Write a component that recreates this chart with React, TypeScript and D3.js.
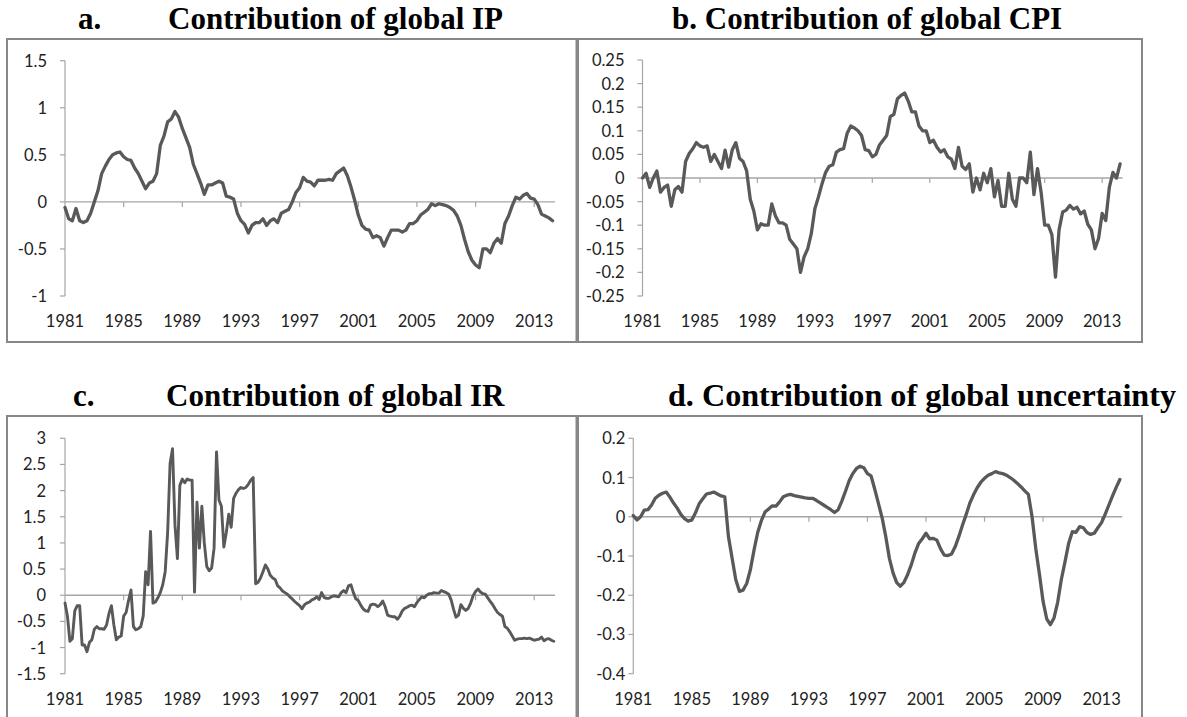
import React from "react";
import * as d3 from "d3";

// ---------- data ----------
const yearLabels = ["1981", "1985", "1989", "1993", "1997", "2001", "2005", "2009", "2013"];
const lastMonth = 401; // months since Jan 1981 of the last observation

// a. quarterly (step 3 months)
const ipValues = [
  -0.06, -0.18, -0.2, -0.07, -0.2, -0.22, -0.2, -0.12, 0.0, 0.12,
  0.3, 0.38, 0.45, 0.5, 0.52, 0.53, 0.48, 0.45, 0.44, 0.36,
  0.3, 0.22, 0.14, 0.2, 0.22, 0.3, 0.6, 0.7, 0.85, 0.88,
  0.96, 0.9, 0.78, 0.68, 0.58, 0.4, 0.3, 0.2, 0.08, 0.18,
  0.18, 0.2, 0.22, 0.2, 0.06, 0.05, 0.03, -0.12, -0.2, -0.24,
  -0.33, -0.25, -0.22, -0.22, -0.18, -0.25, -0.2, -0.18, -0.22, -0.12,
  -0.1, -0.08, 0.0, 0.1, 0.15, 0.26, 0.22, 0.21, 0.17, 0.23,
  0.23, 0.23, 0.24, 0.23, 0.3, 0.33, 0.36, 0.28, 0.16, 0.02,
  -0.14, -0.25, -0.29, -0.3, -0.38, -0.36, -0.38, -0.47, -0.38, -0.3,
  -0.3, -0.3, -0.32, -0.3, -0.23, -0.23, -0.2, -0.14, -0.11, -0.08,
  -0.02, -0.04, -0.02, -0.03, -0.04, -0.06, -0.09, -0.15, -0.25, -0.4,
  -0.53, -0.62, -0.67, -0.7, -0.5, -0.5, -0.54, -0.44, -0.39, -0.44,
  -0.23, -0.15, -0.04, 0.05, 0.03, 0.07, 0.09, 0.04, 0.03, -0.03,
  -0.13, -0.15, -0.17, -0.2,
];

// b. quarterly
const cpiValues = [
  0.0, 0.01, -0.02, 0.0, 0.015, -0.03, -0.02, -0.015, -0.06, -0.025,
  -0.018, -0.03, 0.035, 0.052, 0.062, 0.075, 0.068, 0.065, 0.068, 0.035,
  0.05, 0.035, 0.02, 0.059, 0.023, 0.06, 0.075, 0.042, 0.035, 0.015,
  -0.045, -0.07, -0.11, -0.097, -0.1, -0.1, -0.055, -0.08, -0.095, -0.095,
  -0.1, -0.13, -0.14, -0.15, -0.2, -0.167, -0.15, -0.118, -0.065, -0.04,
  -0.012, 0.012, 0.025, 0.028, 0.055, 0.06, 0.062, 0.095, 0.11, 0.106,
  0.1, 0.09, 0.06, 0.058, 0.045, 0.05, 0.07, 0.08, 0.09, 0.13,
  0.135, 0.168, 0.175, 0.18, 0.163, 0.14, 0.14, 0.11, 0.1, 0.1,
  0.075, 0.08, 0.065, 0.055, 0.06, 0.045, 0.04, 0.02, 0.065, 0.025,
  0.018, 0.03, -0.03, 0.0, -0.025, 0.01, -0.01, 0.02, -0.04, -0.005,
  -0.06, -0.06, 0.01, -0.045, -0.06, 0.0, 0.0, -0.01, 0.055, -0.035,
  0.02, -0.03, -0.1, -0.1, -0.12, -0.21, -0.11, -0.072, -0.068, -0.058,
  -0.066, -0.062, -0.076, -0.07, -0.098, -0.11, -0.15, -0.128, -0.075, -0.09,
  -0.02, 0.012, 0.0, 0.03,
];

// c. bimonthly (step 2 months)
const irValues = [
  -0.15, -0.4, -0.88, -0.83, -0.3, -0.2, -0.2, -0.95, -0.95, -1.08,
  -0.9, -0.85, -0.65, -0.6, -0.64, -0.64, -0.65, -0.57, -0.35, -0.2,
  -0.57, -0.85, -0.8, -0.78, -0.4, -0.33, -0.1, 0.1, -0.6, -0.66,
  -0.64, -0.6, -0.4, 0.45, 0.2, 1.22, -0.15, -0.13, -0.05, 0.05,
  0.2, 0.45, 1.2, 2.52, 2.8, 1.34, 0.7, 2.1, 2.22, 2.15,
  2.22, 2.2, 2.2, 0.06, 1.78, 0.9, 1.7, 1.0, 0.55, 0.47,
  0.52, 0.9, 2.74, 1.82, 1.7, 0.92, 1.2, 1.55, 1.3, 1.85,
  1.95, 2.02, 2.06, 2.04, 2.06, 2.12, 2.2, 2.25, 0.22, 0.25,
  0.33, 0.45, 0.58, 0.5, 0.38, 0.33, 0.3, 0.18, 0.14, 0.08,
  0.05, 0.02, -0.03, -0.07, -0.12, -0.16, -0.2, -0.26, -0.18, -0.15,
  -0.13, -0.09, -0.07, -0.03, -0.08, 0.05, -0.04, -0.06, -0.06, -0.03,
  -0.01, -0.02, -0.03, 0.05, 0.09, 0.05, 0.18, 0.2, 0.05, -0.07,
  -0.1, -0.19, -0.26, -0.3, -0.31, -0.19, -0.17, -0.18, -0.22, -0.18,
  -0.11, -0.22, -0.38, -0.4, -0.41, -0.41, -0.46, -0.4, -0.3, -0.25,
  -0.23, -0.2, -0.19, -0.22, -0.14, -0.08, -0.03, -0.05, 0.0, 0.03,
  0.03, 0.05, 0.04, 0.04, 0.09, 0.07, 0.05, 0.02, -0.09, -0.27,
  -0.42, -0.38, -0.18, -0.25, -0.29, -0.25, -0.15, -0.01, 0.07, 0.12,
  0.06, 0.03, 0.02, -0.05, -0.12, -0.18, -0.26, -0.33, -0.37, -0.4,
  -0.6, -0.63, -0.7, -0.78, -0.86, -0.84, -0.83, -0.83, -0.82, -0.83,
  -0.82, -0.84, -0.86, -0.85, -0.84, -0.8, -0.87, -0.84, -0.83, -0.86,
  -0.88,
];

// d. quarterly
const uncValues = [
  0.003, -0.008, 0.0, 0.017, 0.018, 0.03, 0.047, 0.055, 0.06, 0.063,
  0.05, 0.035, 0.022, 0.006, -0.005, -0.011, -0.008, 0.01, 0.033, 0.046,
  0.058, 0.06, 0.063, 0.058, 0.053, 0.051, -0.05, -0.105, -0.16, -0.19,
  -0.187, -0.17, -0.135, -0.085, -0.04, -0.01, 0.012, 0.02, 0.028, 0.027,
  0.038, 0.051, 0.055, 0.057, 0.054, 0.052, 0.05, 0.048, 0.047, 0.047,
  0.042, 0.036, 0.03, 0.024, 0.018, 0.011, 0.018, 0.04, 0.065, 0.092,
  0.11, 0.123, 0.129, 0.125, 0.11, 0.104, 0.07, 0.034, -0.002, -0.05,
  -0.106, -0.143, -0.168, -0.177, -0.167, -0.147, -0.122, -0.092, -0.068, -0.056,
  -0.042, -0.056, -0.055, -0.06, -0.082, -0.098, -0.099, -0.095, -0.076, -0.05,
  -0.021, 0.006, 0.035, 0.056, 0.074, 0.088, 0.098, 0.106, 0.11, 0.115,
  0.112, 0.11, 0.106, 0.1, 0.093, 0.085, 0.076, 0.066, 0.057, 0.0,
  -0.08, -0.145, -0.215, -0.26, -0.275, -0.258, -0.218, -0.16, -0.115, -0.068,
  -0.038, -0.04, -0.025, -0.028, -0.04, -0.045, -0.042, -0.028, -0.015, 0.007,
  0.03, 0.053, 0.075, 0.095,
];

const ipTicks = [1.5, 1, 0.5, 0, -0.5, -1];
const cpiTicks = [0.25, 0.2, 0.15, 0.1, 0.05, 0, -0.05, -0.1, -0.15, -0.2, -0.25];
const irTicks = [3, 2.5, 2, 1.5, 1, 0.5, 0, -0.5, -1, -1.5];
const uncTicks = [0.2, 0.1, 0, -0.1, -0.2, -0.3, -0.4];

// ---------- layout ----------
type PanelSpec = {
  key: string;
  frame: [number, number, number, number];
  axisX: number;
  plotRight: number;
  yTop: number;
  yBottom: number;
  labelGap: number;
  values: number[];
  step: number;
  ticks: number[];
  stroke: number;
};

const panels: PanelSpec[] = [
  { key: "a", frame: [7, 39, 576.5, 342], axisX: 65, plotRight: 555, yTop: 60.7, yBottom: 296, labelGap: 18, values: ipValues, step: 3, ticks: ipTicks, stroke: 3.3 },
  { key: "b", frame: [578, 39, 1142, 342], axisX: 642.5, plotRight: 1122.5, yTop: 60, yBottom: 296, labelGap: 18, values: cpiValues, step: 3, ticks: cpiTicks, stroke: 3.3 },
  { key: "c", frame: [7, 416, 576.5, 760], axisX: 65, plotRight: 555, yTop: 438.3, yBottom: 673.7, labelGap: 19, values: irValues, step: 2, ticks: irTicks, stroke: 2.9 },
  { key: "d", frame: [578, 416, 1142, 760], axisX: 633.3, plotRight: 1122.3, yTop: 438.3, yBottom: 673.7, labelGap: 8, values: uncValues, step: 3, ticks: uncTicks, stroke: 3.3 },
];

const titleFont = '"Liberation Serif", "Times New Roman", serif';
const tickFont = 'Lato, "Open Sans", sans-serif';
const axisColor = "#a6a6a6";
const lineColor = "#595959";
const frameColor = "#878787";

function Panel({ p }: { p: PanelSpec }) {
  const x = d3.scaleLinear().domain([0, lastMonth]).range([p.axisX, p.plotRight]);
  const y = d3
    .scaleLinear()
    .domain([p.ticks[p.ticks.length - 1], p.ticks[0]])
    .range([p.yBottom, p.yTop]);
  const line = d3
    .line<number>()
    .x((_, i) => x(i * p.step))
    .y((d) => y(d));
  const [fx0, fy0, fx1, fy1] = p.frame;
  const y0 = y(0);
  return (
    <g>
      <rect x={fx0} y={fy0} width={fx1 - fx0} height={fy1 - fy0} fill="white" stroke={frameColor} strokeWidth={2} />
      <line x1={p.axisX} x2={p.axisX} y1={y(p.ticks[0])} y2={y(p.ticks[p.ticks.length - 1])} stroke={axisColor} strokeWidth={1.2} />
      {p.ticks.map((t) => (
        <g key={"yt" + t}>
          <line x1={p.axisX - 5} x2={p.axisX} y1={y(t)} y2={y(t)} stroke={axisColor} strokeWidth={1.2} />
          <text x={p.axisX - p.labelGap} y={y(t)} textAnchor="end" dominantBaseline="central" fontFamily={tickFont} fontSize={16.5} fill="#222">
            {String(t)}
          </text>
        </g>
      ))}
      <line x1={p.axisX} x2={p.plotRight} y1={y0} y2={y0} stroke={axisColor} strokeWidth={1.3} />
      {yearLabels.map((lab, i) => (
        <g key={"xt" + lab}>
          {i > 0 && <line x1={x(i * 48)} x2={x(i * 48)} y1={y0} y2={y0 + 5} stroke={axisColor} strokeWidth={1.2} />}
          <text x={x(i * 48)} y={p.yBottom + 25} textAnchor="middle" dominantBaseline="central" fontFamily={tickFont} fontSize={16.5} fill="#222">
            {lab}
          </text>
        </g>
      ))}
      <path d={line(p.values) || ""} fill="none" stroke={lineColor} strokeWidth={p.stroke} strokeLinejoin="round" strokeLinecap="round" />
    </g>
  );
}

export default function App() {
  return (
    <svg
      width={1187}
      height={717}
      viewBox="0 0 1187 717"
      style={{ position: "absolute", left: 0, top: 0, background: "white" }}
    >
      {panels.map((p) => (
        <Panel key={p.key} p={p} />
      ))}
      <g fontFamily={titleFont} fontWeight="bold" fontSize={31} fill="#000">
        <text x={78} y={29}>a.</text>
        <text x={168} y={29}>Contribution of global IP</text>
        <text x={672} y={29}>b. Contribution of global CPI</text>
        <text x={73} y={406}>c.</text>
        <text x={166} y={406}>Contribution of global IR</text>
        <text x={668} y={406} textLength={508} lengthAdjust="spacingAndGlyphs">
          d. Contribution of global uncertainty
        </text>
      </g>
    </svg>
  );
}
